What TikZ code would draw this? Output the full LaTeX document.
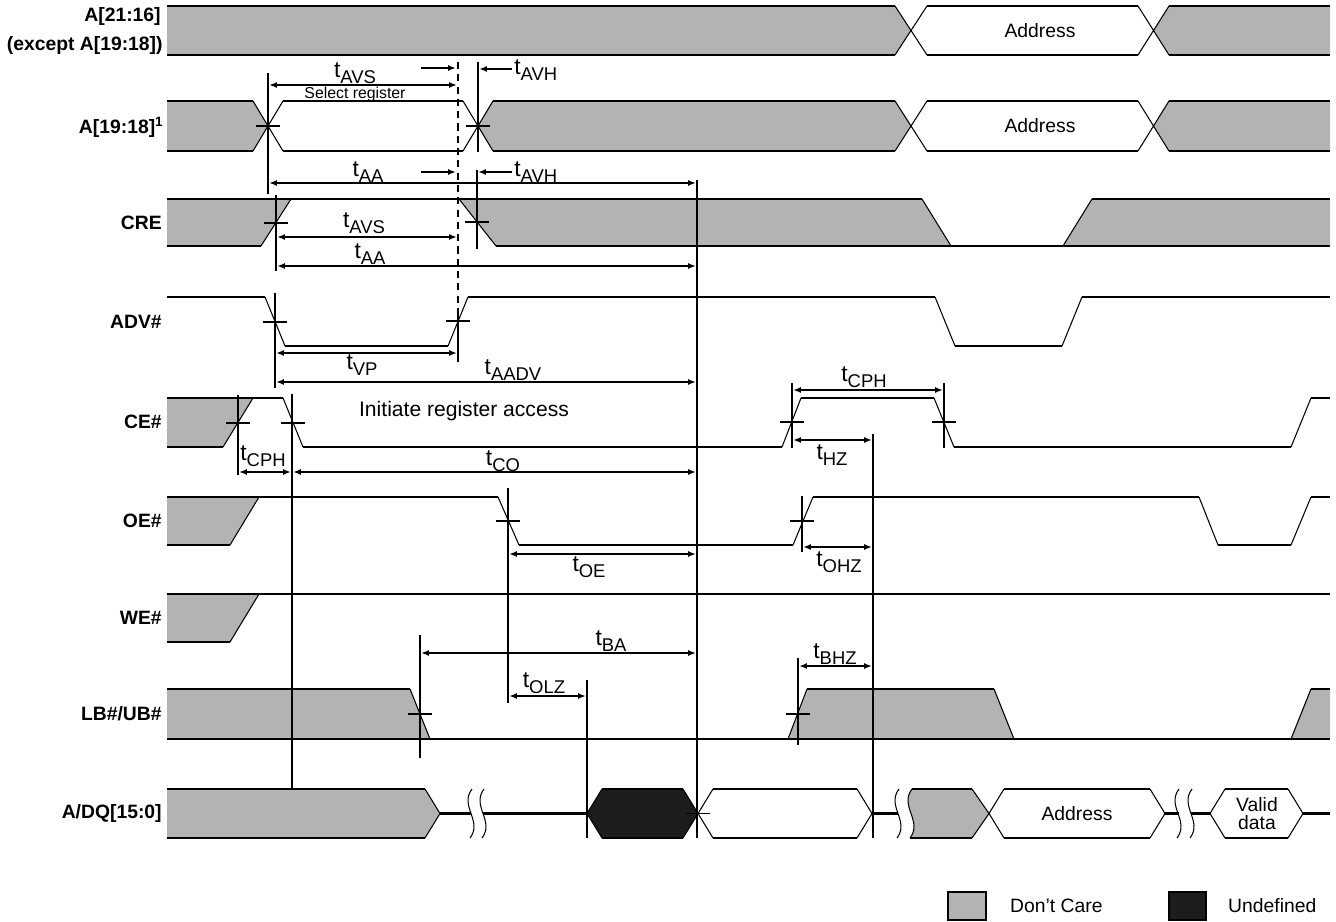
\documentclass[tikz,border=0pt]{standalone}
\usepackage{fontspec}
\setmainfont{Liberation Sans}
\usetikzlibrary{arrows.meta}
\definecolor{dcgray}{RGB}{179,179,179}
\definecolor{undef}{RGB}{28,28,28}
\newcommand{\tsub}[1]{t\raisebox{-0.45ex}{\fontsize{10.5}{12}\selectfont #1}}
% short tick across an edge
\newcommand{\hmark}[2]{\draw[ref] (#1-12,#2) -- (#1+12,#2);}
% break mark on the bus
\newcommand{\brk}[1]{\draw[edg] (#1+4,789) .. controls (#1-9,806) and (#1+15,821) .. (#1+2,838);}
% bus value between two crossing points
\newcommand{\hexa}[3]{%
  \fill[#3] (#1,813.5) -- (#1+15,789) -- (#2-15,789) -- (#2,813.5) -- (#2-15,838) -- (#1+15,838) -- cycle;
  \draw[edg] (#1+15,789) -- (#1,813.5) -- (#1+15,838) (#2-15,789) -- (#2,813.5) -- (#2-15,838);
  \draw[lvl] (#1+15,789) -- (#2-15,789) (#1+15,838) -- (#2-15,838);}
\begin{document}
\begin{tikzpicture}[x=0.02cm,y=-0.02cm,>={Latex[length=4.5pt,width=3.4pt]},
  lvl/.style={line width=1.2pt},
  edg/.style={line width=0.6pt},
  dc/.style={fill=dcgray},
  ref/.style={line width=1.1pt},
  dim/.style={line width=1pt,<->},
  sig/.style={anchor=east,inner sep=0pt,font=\fontsize{11}{13}\selectfont\bfseries},
  tl/.style={font=\fontsize{13}{15}\selectfont,inner sep=0pt},
  txt/.style={font=\fontsize{11}{13}\selectfont}]
\useasboundingbox (0,0) rectangle (1336,922);

% signal names
\node[sig] (nA1) at (161,17) {A[21:16]};
\node[sig] (nA1b) at (163,46) {(except A[19:18])};
\node[sig] (nA2) at (164,127) {A[19:18]\textsuperscript{1}};
\node[sig] (nCRE) at (162,223) {CRE};
\node[sig] (nADV) at (162,322) {ADV\#};
\node[sig] (nCE) at (162,422) {CE\#};
\node[sig] (nOE) at (162,521) {OE\#};
\node[sig] (nWE) at (162,618) {WE\#};
\node[sig] (nLB) at (162,714) {LB\#/UB\#};
\node[sig] (nDQ) at (162,813) {A/DQ[15:0]};

% A[21:16]
\fill[dc] (167,6) -- (895,6) -- (911,30.5) -- (895,55) -- (167,55) -- cycle;
\fill[dc] (1154,30.5) -- (1169,6) -- (1330,6) -- (1330,55) -- (1169,55) -- cycle;
\draw[lvl] (167,6) -- (895,6) (927,6) -- (1138,6) (1169,6) -- (1330,6)
  (167,55) -- (895,55) (927,55) -- (1138,55) (1169,55) -- (1330,55);
\draw[edg] (895,6) -- (927,55) (895,55) -- (927,6) (1138,6) -- (1169,55) (1138,55) -- (1169,6);
\node[txt] (adr1) at (1040,30.5) {Address};

% A[19:18]
\fill[dc] (167,101) -- (253,101) -- (268,126) -- (253,151) -- (167,151) -- cycle;
\fill[dc] (478,126) -- (493,101) -- (895,101) -- (911,126) -- (895,151) -- (493,151) -- cycle;
\fill[dc] (1154,126) -- (1169,101) -- (1330,101) -- (1330,151) -- (1169,151) -- cycle;
\draw[lvl] (167,101) -- (253,101) (283,101) -- (463,101) (493,101) -- (895,101) (927,101) -- (1138,101) (1169,101) -- (1330,101)
  (167,151) -- (253,151) (283,151) -- (463,151) (493,151) -- (895,151) (927,151) -- (1138,151) (1169,151) -- (1330,151);
\draw[edg] (253,101) -- (283,151) (253,151) -- (283,101) (463,101) -- (493,151) (463,151) -- (493,101)
  (895,101) -- (927,151) (895,151) -- (927,101) (1138,101) -- (1169,151) (1138,151) -- (1169,101);
\node[txt] (adr2) at (1040,126) {Address};
\hmark{268}{126} \hmark{478}{126}

% CRE
\fill[dc] (167,199) -- (291,199) -- (261,246) -- (167,246) -- cycle;
\fill[dc] (459,199) -- (922,199) -- (951,246) -- (496,246) -- cycle;
\fill[dc] (1063,246) -- (1092,199) -- (1330,199) -- (1330,246) -- cycle;
\draw[lvl] (167,199) -- (922,199) (1092,199) -- (1330,199) (167,246) -- (261,246) (496,246) -- (1330,246);
\draw[edg] (261,246) -- (291,199) (459,199) -- (496,246) (922,199) -- (951,246) (1063,246) -- (1092,199);
\hmark{276}{223} \hmark{477}{222}

% ADV#
\draw[lvl] (167,297) -- (265,297) (285,346) -- (448,346) (468,297) -- (935,297) (955,346) -- (1062,346) (1082,297) -- (1330,297);
\draw[edg] (265,297) -- (285,346) (448,346) -- (468,297) (935,297) -- (955,346) (1062,346) -- (1082,297);
\hmark{275}{322} \hmark{458}{321}

% CE#
\fill[dc] (167,398) -- (253,398) -- (223,447) -- (167,447) -- cycle;
\draw[lvl] (167,398) -- (283,398) (167,447) -- (223,447) (303,447) -- (782,447) (801,398) -- (934,398)
  (954,447) -- (1291,447) (1311,398) -- (1330,398);
\draw[edg] (223,447) -- (253,398) (283,398) -- (303,447) (782,447) -- (801,398) (934,398) -- (954,447) (1291,447) -- (1311,398);
\hmark{238}{423} \hmark{293}{423} \hmark{792}{422} \hmark{944}{422}
\node[font=\fontsize{12}{14}\selectfont] (init) at (464,411) {Initiate register access};

% OE#
\fill[dc] (167,497) -- (259,497) -- (230,545) -- (167,545) -- cycle;
\draw[lvl] (167,497) -- (498,497) (167,545) -- (230,545) (519,545) -- (793,545) (813,497) -- (1199,497)
  (1218,545) -- (1291,545) (1311,497) -- (1330,497);
\draw[edg] (230,545) -- (259,497) (498,497) -- (519,545) (793,545) -- (813,497) (1199,497) -- (1218,545) (1291,545) -- (1311,497);
\hmark{508}{521} \hmark{802}{521}

% WE#
\fill[dc] (167,594) -- (259,594) -- (230,642) -- (167,642) -- cycle;
\draw[lvl] (167,594) -- (1330,594) (167,642) -- (230,642);
\draw[edg] (230,642) -- (259,594);

% LB#/UB#
\fill[dc] (167,689) -- (410,689) -- (430,739) -- (167,739) -- cycle;
\fill[dc] (788,739) -- (807,689) -- (994,689) -- (1014,739) -- cycle;
\fill[dc] (1291,739) -- (1311,689) -- (1330,689) -- (1330,739) -- cycle;
\draw[lvl] (167,739) -- (1330,739) (167,689) -- (410,689) (807,689) -- (994,689) (1311,689) -- (1330,689);
\draw[edg] (410,689) -- (430,739) (788,739) -- (807,689) (994,689) -- (1014,739) (1291,739) -- (1311,689);
\hmark{420}{714} \hmark{798}{714}

% A/DQ[15:0]
\fill[dc] (167,789) -- (425,789) -- (440,813.5) -- (425,838) -- (167,838) -- cycle;
\draw[lvl] (167,789) -- (425,789) (167,838) -- (425,838);
\draw[edg] (425,789) -- (440,813.5) -- (425,838);
\draw[lvl] (440,813.5) -- (471,813.5) (483,813.5) -- (587,813.5);
\brk{468} \brk{480}
\hexa{587}{698}{undef}
\hexa{698}{872}{white}
\hmark{698}{813.5}
\draw[lvl] (872,813.5) -- (898,813.5);
\brk{895}
\fill[dc] (912,789) -- (972,789) -- (989,813.5) -- (972,838) -- (910,838) .. controls (923,821) and (899,806) .. (912,789) -- cycle;
\brk{908}
\draw[lvl] (912,789) -- (972,789) (910,838) -- (972,838);
\draw[edg] (972,789) -- (989,813.5) -- (972,838);
\hexa{989}{1165}{white}
\node[txt] (adr3) at (1077,813.5) {Address};
\draw[lvl] (1165,813.5) -- (1179,813.5) (1191,813.5) -- (1210,813.5);
\brk{1175} \brk{1188}
\hexa{1210}{1303}{white}
\node[txt,align=center,inner sep=0pt,font=\fontsize{11}{10}\selectfont] (valid) at (1257,813.5) {Valid\\data};
\draw[lvl] (1303,813.5) -- (1330,813.5);

% reference lines
\draw[ref] (268,73) -- (268,194) (478,62) -- (478,152) (477,170) -- (477,249)
  (276,195) -- (276,271) (275,293) -- (275,388) (458,310) -- (458,362)
  (238,395) -- (238,475) (292,394) -- (292,789) (697,180) -- (697,838)
  (792,383) -- (792,448) (944,383) -- (944,448) (873,434) -- (873,838)
  (508,488) -- (508,703) (802,496) -- (802,552) (420,635) -- (420,758)
  (587,680) -- (587,838) (798,658) -- (798,745);
\draw[ref,dash pattern=on 4pt off 3pt] (458,62) -- (458,310);

% timings
\draw[dim] (269,85) -- (457,85);
\node[tl] (tAVS1) at (355,73) {\tsub{AVS}};
\node[font=\fontsize{9}{10}\selectfont] (selreg) at (355,94) {Select register};
\draw[->,line width=1pt] (421,68) -- (456,68);
\draw[->,line width=1pt] (512,69) -- (479,69);
\node[tl,anchor=west] (tAVH1) at (514,70) {\tsub{AVH}};
\node[tl] (tAA1) at (368,172) {\tsub{AA}};
\draw[->,line width=1pt] (421,172) -- (456,172);
\draw[->,line width=1pt] (512,172) -- (478,172);
\node[tl,anchor=west] (tAVH2) at (514,172) {\tsub{AVH}};
\draw[dim] (269,183) -- (696,183);
\node[tl] (tAVS2) at (364,223) {\tsub{AVS}};
\draw[dim] (277,237) -- (457,237);
\node[tl] (tAA2) at (370,254) {\tsub{AA}};
\draw[dim] (277,266) -- (696,266);
\draw[dim] (276,353) -- (457,353);
\node[tl] (tVP) at (362,365) {\tsub{VP}};
\node[tl] (tAADV) at (513,370) {\tsub{AADV}};
\draw[dim] (276,382) -- (696,382);
\node[tl] (tCPH1) at (263,456) {\tsub{CPH}};
\draw[dim] (239,472) -- (291,472);
\node[tl] (tCO) at (503,461) {\tsub{CO}};
\draw[dim] (293,472) -- (696,472);
\node[tl] (tCPH2) at (864,377) {\tsub{CPH}};
\draw[dim] (793,390) -- (943,390);
\draw[dim] (793,440) -- (872,440);
\node[tl] (tHZ) at (832,455) {\tsub{HZ}};
\draw[dim] (509,554) -- (696,554);
\node[tl] (tOE) at (589,567) {\tsub{OE}};
\draw[dim] (803,547) -- (872,547);
\node[tl] (tOHZ) at (839,562) {\tsub{OHZ}};
\node[tl] (tBA) at (611,641) {\tsub{BA}};
\draw[dim] (421,653) -- (696,653);
\node[tl] (tOLZ) at (544,683) {\tsub{OLZ}};
\draw[dim] (509,696) -- (586,696);
\node[tl] (tBHZ) at (835,654) {\tsub{BHZ}};
\draw[dim] (799,666) -- (872,666);

% legend
\draw[edg,fill=dcgray] (948,892) rectangle (986,920);
\node[txt,anchor=west] (ldc) at (1004,906) {Don’t Care};
\draw[edg,fill=undef] (1169,892) rectangle (1206,920);
\node[txt,anchor=west] (lud) at (1222,906) {Undefined};
\end{tikzpicture}
\end{document}
